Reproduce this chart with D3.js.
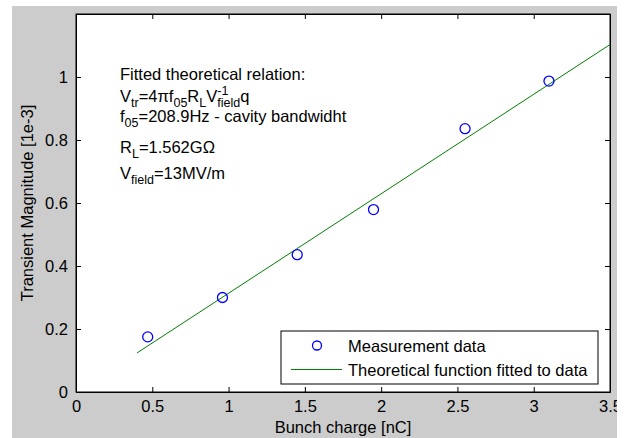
<!DOCTYPE html>
<html>
<head>
<meta charset="utf-8">
<script src="https://cdn.jsdelivr.net/npm/d3@7"></script>
<style>
  body { margin: 0; background: #fff; }
  svg { display: block; }
  text { font-family: "Liberation Sans", Arial, sans-serif; fill: #000; }
</style>
</head>
<body>
<div class="container"></div>
<script>
const width = 617;
const height = 438;

// measured points
const charge = [0.47, 0.96, 1.45, 1.95, 2.55, 3.10];
const magnitude = [0.175, 0.300, 0.436, 0.579, 0.836, 0.987];

// fitted theoretical line
const fitCharge = [0.4, 3.5];
const fitMagnitude = [0.124, 1.103];

const xTicks = [0, 0.5, 1, 1.5, 2, 2.5, 3, 3.5];
const yTicks = [0, 0.2, 0.4, 0.6, 0.8, 1];

const legendLabels = ['Measurement data', 'Theoretical function fitted to data'];

const plot = { left: 76, right: 610, top: 14, bottom: 392 };
const fontSize = 16.5;

const xScale = d3.scaleLinear().domain([0, 3.5]).range([plot.left, plot.right]);
const yScale = d3.scaleLinear().domain([0, 1.2]).range([plot.bottom, plot.top]);

const svg = d3.select('.container')
    .append('svg')
    .attr('width', width)
    .attr('height', height);

// figure background
svg.append('rect')
    .attr('x', 12).attr('y', 6)
    .attr('width', width - 12).attr('height', height - 6)
    .attr('fill', '#cccccc');

svg.append('rect')
    .attr('x', plot.left).attr('y', plot.top)
    .attr('width', plot.right - plot.left)
    .attr('height', plot.bottom - plot.top)
    .attr('fill', '#fff');

// axes, ticks pointing inward, on all four sides
const fmt = d => String(d);
svg.append('g')
    .attr('transform', `translate(0,${plot.bottom})`)
    .call(d3.axisBottom(xScale).tickValues(xTicks).tickFormat(fmt).tickSizeInner(-5).tickSizeOuter(0))
    .call(g => g.selectAll('text').attr('dy', 0).attr('y', 20));
svg.append('g')
    .attr('transform', `translate(0,${plot.top})`)
    .call(d3.axisTop(xScale).tickValues(xTicks).tickFormat('').tickSizeInner(-5).tickSizeOuter(0));
svg.append('g')
    .attr('transform', `translate(${plot.left},0)`)
    .call(d3.axisLeft(yScale).tickValues(yTicks).tickFormat(fmt).tickSizeInner(-5).tickSizeOuter(0))
    .call(g => g.selectAll('text').attr('x', -8));
svg.append('g')
    .attr('transform', `translate(${plot.right},0)`)
    .call(d3.axisRight(yScale).tickValues(yTicks).tickFormat('').tickSizeInner(-5).tickSizeOuter(0));

svg.selectAll('.domain').attr('stroke', '#000');
svg.selectAll('.tick line').attr('stroke', '#000');
svg.selectAll('.tick text')
    .attr('font-family', '"Liberation Sans", Arial, sans-serif')
    .attr('font-size', fontSize)
    .attr('fill', '#000');

// frame
svg.append('rect')
    .attr('x', plot.left).attr('y', plot.top)
    .attr('width', plot.right - plot.left)
    .attr('height', plot.bottom - plot.top)
    .attr('fill', 'none').attr('stroke', '#000');

// axis labels
svg.append('text')
    .attr('x', (plot.left + plot.right) / 2).attr('y', 433)
    .attr('text-anchor', 'middle').attr('font-size', fontSize)
    .text('Bunch charge [nC]');
svg.append('text')
    .attr('transform', `translate(33,${(plot.top + plot.bottom) / 2}) rotate(-90)`)
    .attr('text-anchor', 'middle').attr('font-size', fontSize)
    .text('Transient Magnitude [1e-3]');

// fitted line
const fitData = fitCharge.map((c, i) => [c, fitMagnitude[i]]);
svg.append('path')
    .datum(fitData)
    .attr('fill', 'none')
    .attr('stroke', '#008000')
    .attr('stroke-width', 1)
    .attr('d', d3.line().x(d => xScale(d[0])).y(d => yScale(d[1])));

// measurement markers
svg.selectAll('circle.pt')
    .data(charge)
    .enter()
    .append('circle')
    .attr('class', 'pt')
    .attr('cx', d => xScale(d))
    .attr('cy', (d, i) => yScale(magnitude[i]))
    .attr('r', 5)
    .attr('fill', 'none')
    .attr('stroke', '#0000ff')
    .attr('stroke-width', 1.3);

// annotation text (tex-like sub/superscripts)
const note = svg.append('g').attr('font-size', fontSize);
note.append('text').attr('x', 120).attr('y', 80).text('Fitted theoretical relation:');

const offs = { sub: 5, sup: -7 };
const small = 12.5;
function rich(y, parts) {
    const t = note.append('text').attr('x', 120).attr('y', y);
    let shift = 0;
    let prev = null;
    parts.forEach(([s, kind]) => {
        const target = offs[kind] || 0;
        const ts = t.append('tspan')
            .attr('dy', target - shift)
            .attr('font-size', kind ? small : fontSize)
            .text(s);
        // subscript stacked right under a superscript
        if (prev && prev.kind === 'sup' && kind === 'sub') {
            ts.attr('dx', -prev.node.getComputedTextLength());
        }
        prev = { kind, node: ts.node() };
        shift = target;
    });
}

rich(101.5, [['V'], ['tr', 'sub'], ['=4\u03c0f'], ['05', 'sub'], ['R'], ['L', 'sub'], ['V'], ['-1', 'sup'], ['field', 'sub'], ['q']]);
rich(122, [['f'], ['05', 'sub'], ['=208.9Hz  - cavity bandwidht']]);
rich(153, [['R'], ['L', 'sub'], ['=1.562G\u03a9']]);
rich(179, [['V'], ['field', 'sub'], ['=13MV/m']]);

// legend
const lg = svg.append('g');
lg.append('rect')
    .attr('x', 281).attr('y', 331)
    .attr('width', 317).attr('height', 53)
    .attr('fill', '#fff').attr('stroke', '#000');
lg.append('circle')
    .attr('cx', 317).attr('cy', 345.5).attr('r', 4.5)
    .attr('fill', 'none').attr('stroke', '#0000ff').attr('stroke-width', 1.3);
lg.append('line')
    .attr('x1', 291).attr('x2', 342).attr('y1', 369.5).attr('y2', 369.5)
    .attr('stroke', '#008000');
lg.selectAll('text')
    .data(legendLabels)
    .enter()
    .append('text')
    .attr('x', 348)
    .attr('y', (d, i) => 351.5 + i * 24.5)
    .attr('font-size', fontSize)
    .text(d => d);
</script>
</body>
</html>
